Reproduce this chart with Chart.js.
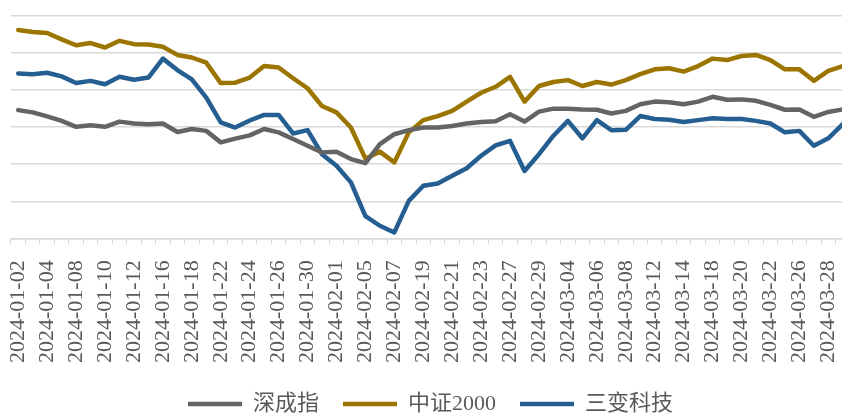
<!DOCTYPE html>
<html>
<head>
<meta charset="utf-8">
<script src="https://cdn.jsdelivr.net/npm/chart.js@4"></script>
<style>
  html, body { margin: 0; padding: 0; background: #fff; overflow: hidden; }
  #wrap { width: 850px; height: 425px; }
</style>
</head>
<body>
<div id="wrap"><canvas id="trend-chart"></canvas></div>
<script>
// 交易日
const dates = [
    '2024-01-02', '2024-01-03', '2024-01-04', '2024-01-05', '2024-01-08', '2024-01-09', '2024-01-10', '2024-01-11',
    '2024-01-12', '2024-01-15', '2024-01-16', '2024-01-17', '2024-01-18', '2024-01-19', '2024-01-22', '2024-01-23',
    '2024-01-24', '2024-01-25', '2024-01-26', '2024-01-29', '2024-01-30', '2024-01-31', '2024-02-01', '2024-02-02',
    '2024-02-05', '2024-02-06', '2024-02-07', '2024-02-08', '2024-02-19', '2024-02-20', '2024-02-21', '2024-02-22',
    '2024-02-23', '2024-02-26', '2024-02-27', '2024-02-28', '2024-02-29', '2024-03-01', '2024-03-04', '2024-03-05',
    '2024-03-06', '2024-03-07', '2024-03-08', '2024-03-11', '2024-03-12', '2024-03-13', '2024-03-14', '2024-03-15',
    '2024-03-18', '2024-03-19', '2024-03-20', '2024-03-21', '2024-03-22', '2024-03-25', '2024-03-26', '2024-03-27',
    '2024-03-28', '2024-03-29'
];

// 深成指
const szComponent = [
    34.6, 34.0, 32.9, 31.7, 30.1, 30.5, 30.1, 31.5, 31.0, 30.8, 31.0, 28.7, 29.5, 29.0, 25.9, 26.9,
    27.8, 29.5, 28.6, 26.8, 25.0, 23.2, 23.4, 21.4, 20.3, 25.4, 28.1, 29.2, 29.9, 29.9, 30.3, 31.0,
    31.4, 31.6, 33.5, 31.5, 34.2, 35.0, 35.0, 34.8, 34.7, 33.7, 34.4, 36.2, 36.9, 36.7, 36.2, 36.9,
    38.2, 37.4, 37.5, 37.1, 36.0, 34.7, 34.8, 32.8, 34.1, 34.8
];

// 中证2000
const csi2000 = [
    56.2, 55.7, 55.4, 53.7, 52.1, 52.7, 51.5, 53.3, 52.4, 52.3, 51.7, 49.5, 48.8, 47.4, 41.9, 42.0,
    43.4, 46.5, 46.1, 43.2, 40.5, 35.7, 34.0, 29.9, 21.5, 23.4, 20.5, 28.6, 31.9, 33.0, 34.4, 36.9,
    39.3, 40.9, 43.6, 36.9, 41.1, 42.2, 42.7, 41.1, 42.2, 41.5, 42.7, 44.3, 45.6, 45.9, 45.0, 46.5,
    48.5, 48.1, 49.2, 49.5, 48.1, 45.6, 45.6, 42.5, 45.2, 46.5
];

// 三变科技
const sanbian = [
    44.5, 44.3, 44.7, 43.7, 41.9, 42.5, 41.6, 43.6, 42.8, 43.4, 48.5, 45.4, 42.9, 38.0, 31.3, 29.9,
    31.8, 33.3, 33.3, 28.3, 29.2, 22.7, 19.6, 15.1, 6.0, 3.4, 1.6, 10.1, 14.2, 14.8, 16.9, 18.9,
    22.3, 25.1, 26.3, 18.2, 22.7, 27.7, 31.7, 27.0, 31.9, 29.2, 29.3, 33.0, 32.2, 32.0, 31.4, 31.9,
    32.4, 32.2, 32.2, 31.7, 31.0, 28.6, 29.0, 25.0, 27.0, 30.8
];

const seriesNames = ['深成指', '中证2000', '三变科技'];
const seriesColors = ['#646464', '#9c7500', '#255e91'];

main();

function main() {
    trendChart();
}

// 走势对比
function trendChart() {
    const values = [szComponent, csi2000, sanbian];
    const datasets = seriesNames.map((name, i) => ({
        label: name,
        data: values[i],
        borderColor: seriesColors[i],
        backgroundColor: seriesColors[i],
        borderWidth: 4.5,
        borderCapStyle: 'round',
        borderJoinStyle: 'round',
        pointRadius: 0,
        tension: 0,
    }));

    const ctx = document.getElementById('trend-chart');
    new Chart(ctx, {
        type: 'line',
        data: {
            labels: dates,
            datasets,
        },
        options: {
            responsive: true,
            maintainAspectRatio: false,
            animation: false,
            layout: {
                padding: { top: 16, left: 11, right: 0, bottom: 0 },
            },
            plugins: {
                legend: {
                    position: 'bottom',
                    labels: {
                        usePointStyle: true,
                        pointStyle: 'line',
                        pointStyleWidth: 54,
                        padding: 24,
                        color: '#595959',
                        font: { family: '"Liberation Serif", "Noto Sans CJK SC"', size: 22 },
                    },
                },
                tooltip: { enabled: false },
            },
            scales: {
                x: {
                    offset: true,
                    // 不让竖排标签再挤占左右空间，并和图例靠近一点
                    afterFit: (scale) => {
                        scale.paddingLeft = 0;
                        scale.paddingRight = 0;
                        scale.height -= 10;
                    },
                    grid: {
                        offset: true,
                        drawOnChartArea: false,
                        color: '#d9d9d9',
                        tickLength: 6,
                    },
                    border: { color: '#d9d9d9', width: 1.5 },
                    ticks: {
                        autoSkip: false,
                        minRotation: 90,
                        maxRotation: 90,
                        color: '#595959',
                        padding: 16,
                        font: { family: '"Liberation Serif"', size: 22 },
                        callback: function (value, index) {
                            return index % 2 === 0 ? this.getLabelForValue(value) : '';
                        },
                    },
                },
                y: {
                    min: 0,
                    max: 60,
                    border: { display: false },
                    grid: { color: '#d9d9d9', lineWidth: 1.5, drawTicks: false },
                    ticks: { display: false, stepSize: 10 },
                },
            },
        },
    });
}
</script>
</body>
</html>
